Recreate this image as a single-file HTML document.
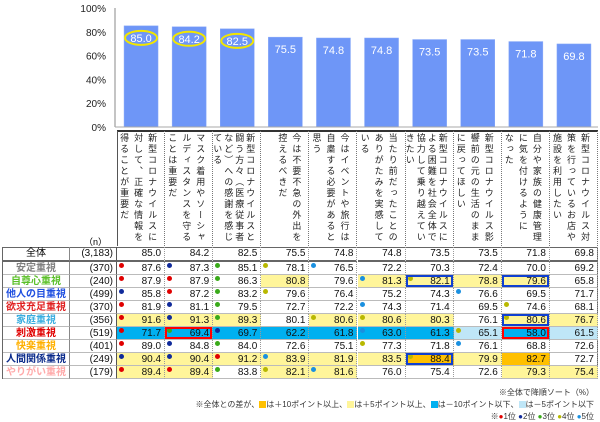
<!DOCTYPE html>
<html><head><meta charset="utf-8">
<style>
body{margin:0;background:#fff;}
#root{position:relative;width:600px;height:422px;overflow:hidden;font-family:"Liberation Sans","Noto Sans CJK JP",sans-serif;background:#fff;}
.abs{position:absolute;}
.hcol{position:absolute;top:131px;height:115px;box-sizing:border-box;border-right:1px dotted #777;overflow:hidden;}
.htxt{position:absolute;top:2px;right:5px;writing-mode:vertical-rl;font-size:9px;letter-spacing:2px;color:#222;white-space:pre;}
.cell{position:absolute;box-sizing:border-box;font-size:10px;text-align:right;padding-right:3px;color:#111;border-right:1px dotted #999;border-bottom:1px solid #bbb;}
.lab{position:absolute;box-sizing:border-box;font-size:10px;text-align:center;font-weight:bold;border-bottom:1px solid #bbb;}
.dot{position:absolute;left:2px;top:1px;width:5px;height:5px;border-radius:50%;}
.note{position:absolute;right:6px;font-size:8px;color:#333;white-space:nowrap;}
.sq{display:inline-block;width:7px;height:7px;vertical-align:-1px;}
</style></head>
<body>
<div id="root">
<svg id="chart" class="abs" style="left:0;top:0" width="600" height="132"></svg>
<div id="header"></div>
<div class="abs" style="left:84px;top:235px;font-size:9px;">（n）</div>
<div id="table"></div>
<div class="note" style="top:387px">※全体で降順ソート（%）</div>
<div class="note" style="top:399px">※全体との差が、<span class="sq" style="background:#ffc000"></span>は＋10ポイント以上、<span class="sq" style="background:#fff59a"></span>は＋5ポイント以上、<span class="sq" style="background:#00b0f0"></span>は－10ポイント以下、<span class="sq" style="background:#bfe6f7"></span>は－5ポイント以下</div>
<div class="note" style="top:411px">※<span style="color:#e00000">●</span>1位 <span style="color:#102a9a">●</span>2位 <span style="color:#3aaa1a">●</span>3位 <span style="color:#b8b800">●</span>4位 <span style="color:#1a90e0">●</span>5位</div>
</div>
<script>
const categories=["新型コロナウイルスに\n対して、正確な情報を\n得ることが重要だ","マスク着用やソーシャ\nルディスタンスを守る\nことは重要だ","新型コロナウイルスと\n闘う方々（医療従事者\nなど）への感謝を感じ\nている","今は不要不急の外出を\n控えるべきだ","今はイベントや旅行は\n自粛する必要があると\n思う","当たり前だったことの\nありがたみを実感して\nいる","新型コロナウイルスに\nよる困難を社会全体で\n協力して乗り越えてい\nきたい","新型コロナウイルス影\n響前の元の生活のまま\nに戻ってほしい","自分や家族の健康管理\nに気を付けるように\nなった","新型コロナウイルス対\n策を行っているお店や\n施設を利用したい"];
const totalValues=[85.0,84.2,82.5,75.5,74.8,74.8,73.5,73.5,71.8,69.8];
const yTicks=[0,20,40,60,80,100];
const circled=[0,1,2];
const rowLabels=["全体","安定重視","自尊心重視","他人の目重視","欲求充足重視","家庭重視","刺激重視","快楽重視","人間関係重視","やりがい重視"];
const rowColors=["#000","#808080","#5cc02a","#1f4fe0","#e02020","#3aaee0","#e00000","#ffb000","#0a2a8a","#ffaaaa"];
const rowN=["(3,183)","(370)","(240)","(499)","(370)","(356)","(519)","(401)","(249)","(179)"];
const rowValues=[
[85.0,84.2,82.5,75.5,74.8,74.8,73.5,73.5,71.8,69.8],
[87.6,87.3,85.1,78.1,76.5,72.2,70.3,72.4,70.0,69.2],
[87.9,87.9,86.3,80.8,79.6,81.3,82.1,78.8,79.6,65.8],
[85.8,87.2,83.2,79.6,76.4,75.2,74.3,76.6,69.5,71.7],
[81.9,81.1,79.5,72.7,72.2,74.3,71.4,69.5,74.6,68.1],
[91.6,91.3,89.3,80.1,80.6,80.6,80.3,76.1,80.6,76.7],
[71.7,69.4,69.7,62.2,61.8,63.0,61.3,65.1,58.0,61.5],
[89.0,84.8,84.0,72.6,75.1,77.3,71.8,76.1,68.8,72.6],
[90.4,90.4,91.2,83.9,81.9,83.5,88.4,79.9,82.7,72.7],
[89.4,89.4,83.8,82.1,81.6,76.0,75.4,72.6,79.3,75.4]];
const rowRanks=[
[0,0,0,0,0,0,0,0,0,0],
[1,2,3,4,5,0,0,0,0,0],
[1,1,3,0,0,5,4,0,0,0],
[2,1,3,4,0,0,0,5,0,0],
[1,2,3,0,0,5,0,0,4,0],
[1,2,3,0,4,4,0,0,4,0],
[1,3,2,0,0,5,0,4,0,0],
[1,2,3,0,0,4,0,5,0,0],
[2,2,1,5,0,0,4,0,0,0],
[1,1,3,4,5,0,0,0,0,0]];
const rowBg=[
[0,0,0,0,0,0,0,0,0,0],
[0,0,0,0,0,0,0,0,0,0],
[0,0,0,1,0,1,1,1,1,0],
[0,0,0,0,0,0,0,0,0,0],
[0,0,0,0,0,0,0,0,0,0],
[1,1,1,0,1,1,1,0,1,1],
[3,3,3,3,3,3,3,4,3,4],
[0,0,0,0,0,0,0,0,0,0],
[1,1,1,1,1,1,2,1,2,0],
[1,1,0,1,1,0,0,0,1,1]];
const rowBox=[
[0,0,0,0,0,0,0,0,0,0],
[0,0,0,0,0,0,0,0,0,0],
[0,0,0,0,0,0,2,0,2,0],
[0,0,0,0,0,0,0,0,0,0],
[0,0,0,0,0,0,0,0,0,0],
[0,0,0,0,0,0,0,0,2,0],
[0,1,0,0,0,0,0,0,1,0],
[0,0,0,0,0,0,0,0,0,0],
[0,0,0,0,0,0,2,0,0,0],
[0,0,0,0,0,0,0,0,0,0]];
const dotColors=["","#e00000","#102a9a","#3aaa1a","#b8b800","#1a90e0"];
const bgColors=["","#fff59a","#ffc000","#00b0f0","#bfe6f7"];
const boxColors=["","#ff0000","#1040d0"];

const NS="http://www.w3.org/2000/svg";
const colX0=117, colW=48.1, y0=127, y100=8, axisX=115;
const yScale=v=>y0-(v/100)*(y0-y100);
const xCol=i=>colX0+i*colW;
const svg=document.getElementById('chart');
function mk(tag,attrs){const e=document.createElementNS(NS,tag);for(const k in attrs)e.setAttribute(k,attrs[k]);svg.appendChild(e);return e;}
yTicks.forEach(t=>{
  const tx=mk('text',{x:106,y:yScale(t)+4,'text-anchor':'end','font-size':'10',fill:'#222'});
  tx.textContent=t+'%';
  
  
});
const ax=mk('line',{x1:axisX,y1:y100,x2:axisX,y2:y0,stroke:'#888','stroke-width':1});


totalValues.forEach((v,i)=>{
  const cx=xCol(i)+colW/2;
  const r=mk('rect',{x:cx-17,y:yScale(v),width:34,height:y0-yScale(v),fill:'#6e96f7',stroke:'#8aaaf8','stroke-width':0.5});
  
  
  const ly=yScale(v)+16;
  if(circled.includes(i)){
    const el=mk('ellipse',{cx:cx,cy:ly-4,rx:16,ry:7,fill:'none',stroke:'#f2e600','stroke-width':2});
    
    
  }
  const t=mk('text',{x:cx,y:ly,'text-anchor':'middle','font-size':'11',fill:'#fff'});
  t.textContent=v.toFixed(1);
  
  
});
const base=mk('line',{x1:axisX,y1:y0,x2:598,y2:y0,stroke:'#aaa','stroke-width':1});



const header=document.getElementById('header');
const htop=document.createElement('div');
htop.className='abs';htop.style.cssText='left:117px;top:130px;width:481px;height:2px;background:#333';


header.appendChild(htop);
categories.forEach((c,i)=>{
  const d=document.createElement('div');
  d.className='hcol';
  d.style.left=xCol(i)+'px';d.style.width=colW+'px';
  if(i===0)d.style.borderLeft='1px solid #555';
  const t=document.createElement('div');t.className='htxt';t.textContent=c;
  const lines=c.split('\n').length;
  t.style.lineHeight=(lines>=4?11:14)+'px';
  d.appendChild(t);
  
  
  header.appendChild(d);
});

const table=document.getElementById('table');
const tTop=247,r0h=14.5,rh=13.1;
const rowY=r=>r===0?tTop:tTop+r0h+(r-1)*rh;
const rowH=r=>r===0?r0h:rh;
const frame=document.createElement('div');
frame.className='abs';
frame.style.cssText='left:2px;top:'+tTop+'px;width:596px;height:'+(r0h+9*rh)+'px;border:1px solid #666;box-sizing:border-box;';


table.appendChild(frame);
rowLabels.forEach((lab,r)=>{
  const y=rowY(r),h=rowH(r);
  const l=document.createElement('div');
  l.className='lab';
  l.style.cssText+=`left:3px;top:${y}px;width:67px;height:${h}px;line-height:${h}px;color:${rowColors[r]};border-right:1px solid #888;`+(r===0?'font-weight:normal;border-bottom:2px solid #666;':'');
  l.textContent=lab;
  
  
  table.appendChild(l);
  const n=document.createElement('div');
  n.className='cell';
  n.style.cssText+=`left:70px;top:${y}px;width:47px;height:${h}px;line-height:${h}px;border-right:1px solid #555;`+(r===0?'border-bottom:2px solid #666;':'');
  n.textContent=rowN[r];
  
  
  table.appendChild(n);
  rowValues[r].forEach((v,i)=>{
    const c=document.createElement('div');
    c.className='cell';
    let st=`left:${xCol(i)}px;top:${y}px;width:${colW}px;height:${h}px;line-height:${h}px;`;
    if(rowBg[r][i])st+='background:'+bgColors[rowBg[r][i]]+';';
    if(r===0)st+='border-bottom:2px solid #666;';
    c.style.cssText+=st;
    c.textContent=v.toFixed(1);
    if(rowRanks[r][i]){
      const d=document.createElement('span');d.className='dot';d.style.background=dotColors[rowRanks[r][i]];
      c.appendChild(d);
    }
    if(rowBox[r][i]){
      const b=document.createElement('span');
      b.style.cssText='position:absolute;left:0;top:0;right:0;bottom:0;border:2px solid '+boxColors[rowBox[r][i]]+';';
      c.appendChild(b);
    }
    
    
    table.appendChild(c);
  });
});
</script>
</body></html>
